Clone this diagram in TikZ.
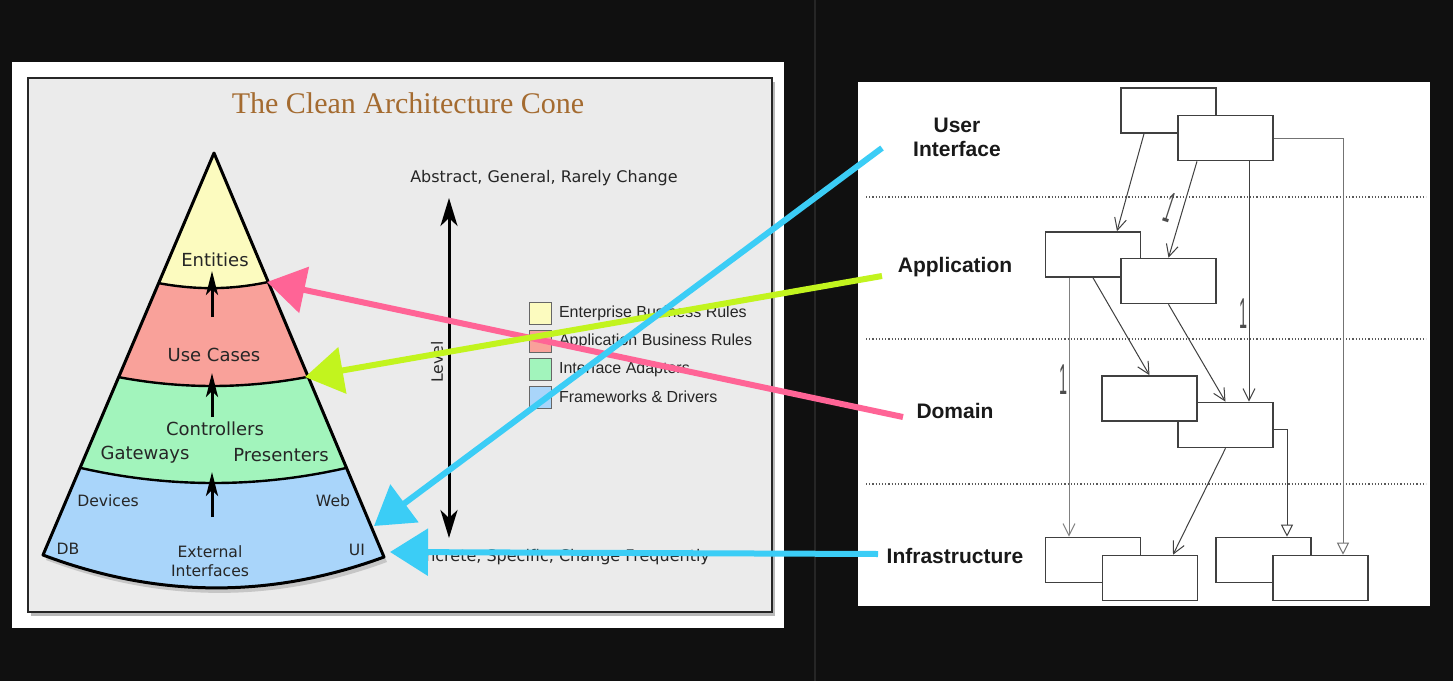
\documentclass[tikz,border=0pt]{standalone}
\usepackage{fontspec}
\setmainfont{DejaVu Sans}
\newfontfamily\legendfont{Liberation Sans}
\newfontfamily\titlefont{Liberation Serif}
\usetikzlibrary{arrows.meta,calc}
\definecolor{bg}{HTML}{101010}
\definecolor{panel}{HTML}{EBEBEB}
\definecolor{titlebrown}{HTML}{A46B30}
\definecolor{entcol}{HTML}{FCFBBF}
\definecolor{uccol}{HTML}{F9A19A}
\definecolor{iacol}{HTML}{A2F4BC}
\definecolor{fwcol}{HTML}{A9D5FA}
\definecolor{pinkarr}{HTML}{FF6496}
\definecolor{limearr}{HTML}{C2F41E}
\definecolor{bluearr}{HTML}{3BCDF6}
\definecolor{divider}{HTML}{262626}
\newcommand{\multone}{\scalebox{0.8}[2.4]{\legendfont\fontsize{9pt}{9pt}\selectfont 1}}

\begin{document}
\begin{tikzpicture}[x=0.5pt,y=-0.5pt,
  lbl/.style={font=\fontsize{9pt}{10pt}\selectfont, text=black!85},
  small/.style={font=\fontsize{7.8pt}{9.5pt}\selectfont, text=black!85},
  legend/.style={font=\legendfont\fontsize{8pt}{9pt}\selectfont, text=black!85, anchor=west},
  swatch/.style={draw=black!60, line width=0.5pt, minimum size=11pt, inner sep=0pt},
  layer/.style={font=\legendfont\bfseries\fontsize{10.5pt}{12pt}\selectfont, text=black!90, align=center},
  umlbox/.style={draw=black!75, line width=0.8pt, fill=white, minimum width=47.5pt, minimum height=22.5pt, inner sep=0pt},
  dep/.style={draw=black!75, line width=0.5pt, -{Straight Barb[length=6pt,width=6pt]}},
  impl/.style={draw=black!55, line width=0.5pt, -{Triangle[open,length=6pt,width=6pt]}},
  mult/.style={text=black!70, inner sep=0pt},
  pointer/.style={line width=3pt, -{Triangle[length=19pt,width=23pt]}},
  flowup/.style={line width=1.5pt, -{Stealth[length=12pt,width=6pt,inset=3pt]}},
  level/.style={line width=1.5pt, {Stealth[length=14pt,width=8.5pt,inset=4pt]}-{Stealth[length=14pt,width=8.5pt,inset=4pt]}}
]
\useasboundingbox (0,0) rectangle (1453,681);
\fill[bg] (0,0) rectangle (1453,681);
\draw[divider, line width=0.6pt] (815,0) -- (815,681);

% left picture
\fill[white] (12,62) rectangle (784,628);
\fill[gray!55] (31,82) rectangle (775,616);
\filldraw[fill=panel, draw=black!85, line width=1.2pt] (28,78) rectangle (772,612);
\node[font=\titlefont\fontsize{15pt}{18pt}\selectfont, text=titlebrown] (title) at (408,103) {The Clean Architecture Cone};

\coordinate (apex) at (214,153);
\coordinate (eL) at (158,283); \coordinate (eR) at (268,282);
\coordinate (uL) at (118,377); \coordinate (uR) at (307,377);
\coordinate (cL) at (81,468);  \coordinate (cR) at (346,468);
\coordinate (fL) at (43,555);  \coordinate (fR) at (384,557);

\fill[gray!45] ($(apex)+(3,5)$) -- ($(fR)+(3,5)$) .. controls (273,604) and (160,603) .. ($(fL)+(3,5)$) -- cycle;
\fill[entcol] (apex) -- (eR) .. controls (231,290) and (195,290) .. (eL) -- cycle;
\fill[uccol] (eL) .. controls (195,290) and (231,290) .. (eR) -- (uR) .. controls (244,389) and (181,389) .. (uL) -- cycle;
\fill[iacol] (uL) .. controls (181,389) and (244,389) .. (uR) -- (cR) .. controls (258,488) and (169,488) .. (cL) -- cycle;
\fill[fwcol] (cL) .. controls (169,488) and (258,488) .. (cR) -- (fR) .. controls (270,599) and (157,598) .. (fL) -- cycle;
\draw[line width=1.5pt, line join=round] (fL) -- (apex) -- (fR) .. controls (270,599) and (157,598) .. (fL) -- cycle;
\draw[line width=1.2pt] (eL) .. controls (195,290) and (231,290) .. (eR);
\draw[line width=1.2pt] (uL) .. controls (181,389) and (244,389) .. (uR);
\draw[line width=1.2pt] (cL) .. controls (169,488) and (258,488) .. (cR);

\node[lbl] (ent) at (215,260) {Entities};
\node[lbl] (uc) at (214,355) {Use Cases};
\node[lbl] (ctrl) at (215,429) {Controllers};
\node[lbl] (gw) at (145,455) {Gateways};
\node[lbl] (pres) at (281,455) {Presenters};
\node[small] (dev) at (108,501) {Devices};
\node[small] (web) at (333,501) {Web};
\node[small] (db) at (68,549) {DB};
\node[small] (uilbl) at (357,550) {UI};
\node[small, align=center] (ext) at (210,561) {External\\Interfaces};

\coordinate (a1) at (212,517); \coordinate (a2) at (212,472);
\coordinate (a3) at (212,417); \coordinate (a4) at (212,373);
\coordinate (a5) at (212,317); \coordinate (a6) at (212,271);
\draw[flowup] (a1) -- (a2);
\draw[flowup] (a3) -- (a4);
\draw[flowup] (a5) -- (a6);

\node[small, font=\fontsize{8pt}{9pt}\selectfont] (abstr) at (544,178) {Abstract, General, Rarely Change};
\node[small, font=\fontsize{8pt}{9pt}\selectfont, anchor=east] (concr) at (717,557) {Concrete, Specific, Change Frequently};
\coordinate (lvTop) at (449,198); \coordinate (lvBot) at (449,538);
\draw[level] (lvBot) -- (lvTop);
\node[small, rotate=90] (lv) at (437,362) {Level};

\node[swatch, fill=entcol] (s1) at (540.5,313.5) {};
\node[swatch, fill=uccol] (s2) at (540.5,341.5) {};
\node[swatch, fill=iacol] (s3) at (540.5,369.5) {};
\node[swatch, fill=fwcol] (s4) at (540.5,397.5) {};
\node[legend] at (552,313) {Enterprise Business Rules};
\node[legend] at (552,341) {Application Business Rules};
\node[legend] at (552,369) {Interface Adapters};
\node[legend] at (552,397) {Frameworks \& Drivers};

% right picture
\fill[white] (858,82) rectangle (1430,606);
\foreach \y in {197,339,484}
  \draw[black!65, line width=0.6pt, densely dotted] (866,\y) -- (1426,\y);

\node[layer] (ui) at (957,137) {User\\Interface};
\node[layer] (app) at (955,267) {Application};
\node[layer] (dom) at (955,411) {Domain};
\node[layer] (infra) at (955,556) {Infrastructure};

\node[umlbox] (A) at (1168.5,110.5) {};
\node[umlbox] (B) at (1225.5,138) {};
\node[umlbox] (C) at (1093,254.5) {};
\node[umlbox] (D) at (1168.5,281) {};
\node[umlbox] (E2) at (1225.5,425) {};
\node[umlbox] (E1) at (1149.5,398.5) {};
\node[umlbox] (F1) at (1093,560) {};
\node[umlbox] (F2) at (1150,578) {};
\node[umlbox] (G1) at (1263.5,560) {};
\node[umlbox] (G2) at (1320.5,578) {};

\draw[dep] ([xshift=-12.25pt]A.south) -- ([xshift=12pt]C.north);
\draw[dep] ([xshift=-14.25pt]B.south) -- (D.north);
\draw[dep] ([xshift=11.75pt]B.south) -- ([xshift=11.75pt]E2.north);
\draw[impl] (B.east) -| ([xshift=11.25pt]G2.north);
\draw[dep, draw=black!50] ([xshift=-12pt]C.south) -- ([xshift=-12pt]F1.north);
\draw[dep] (C.south) -- (E1.north);
\draw[dep] (D.south) -- (E2.north);
\draw[dep] (E2.south) -- ([xshift=11.5pt]F2.north);
\draw[impl, draw=black!75] ([yshift=-2pt]E2.east) -| ([xshift=11.75pt]G1.north);

\node[mult, rotate=-18] (m1) at (1170,208) {\multone};
\node[mult] (m2) at (1243,314) {\multone};
\node[mult] (m3) at (1063,380) {\multone};

% pointers
\coordinate (uiTail) at (882,148);  \coordinate (webTip) at (374,526);
\coordinate (appTail) at (882,276); \coordinate (ucTip) at (305,377);
\coordinate (domTail) at (903,417); \coordinate (entTip) at (267,282);
\coordinate (infTail) at (878,554); \coordinate (uiTip) at (390,552);
\draw[pointer, pinkarr] (domTail) -- (entTip);
\draw[pointer, limearr] (appTail) -- (ucTip);
\draw[pointer, bluearr] (uiTail) -- (webTip);
\draw[pointer, bluearr] (infTail) -- (uiTip);
\end{tikzpicture}
\end{document}
